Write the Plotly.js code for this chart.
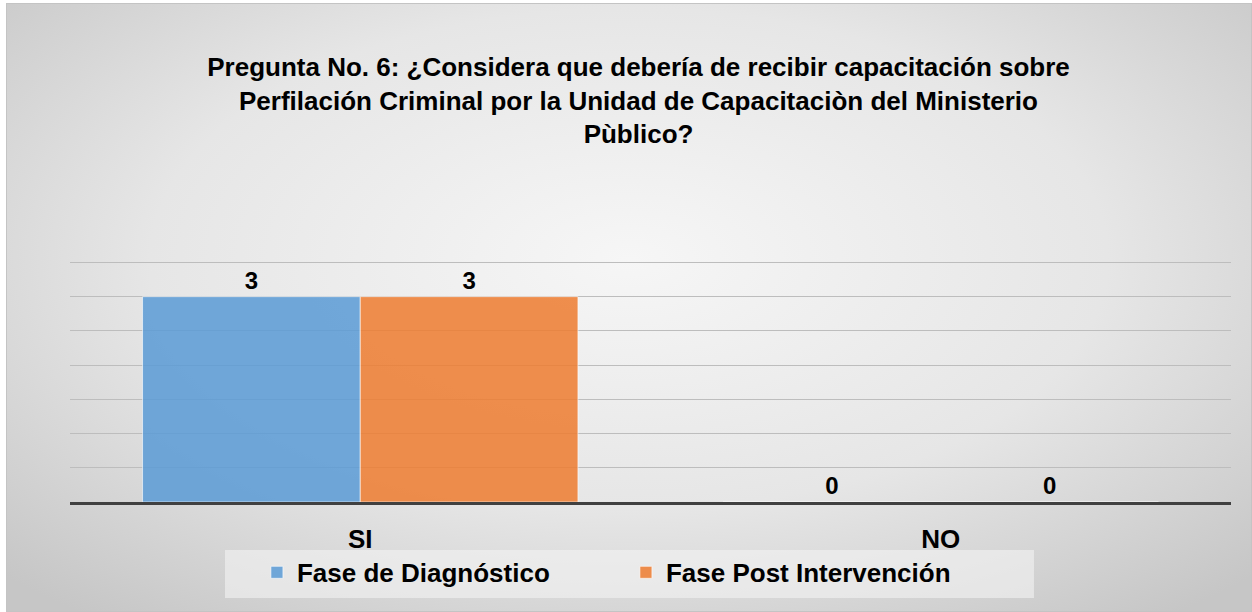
<!DOCTYPE html>
<html>
<head>
<meta charset="utf-8">
<script src="https://cdn.plot.ly/plotly-3.0.1.min.js"></script>
<style>
  html, body { margin: 0; padding: 0; background: #ffffff; }
  #bg {
    position: absolute; left: 6px; top: 3px; width: 1244px; height: 607px;
    border: 1px solid #c4c4c4;
    background: radial-gradient(ellipse 70% 75% at 50% 42%, #f6f6f6 0%, #e6e6e6 55%, #c6c6c6 100%);
  }
  #chart { position: absolute; left: 0; top: 0; width: 1252px; height: 612px; }
</style>
</head>
<body>
<div id="bg"></div>
<div id="chart"></div>
<script>
const categories = ["SI", "NO"];
const seriesNames = ["Fase de Diagnóstico", "Fase Post Intervención"];
const diagnostico = [3, 0];
const postIntervencion = [3, 0];
const titleText = "Pregunta No. 6: ¿Considera que debería de recibir capacitación sobre<br>Perfilación Criminal por la Unidad de Capacitaciòn del Ministerio<br>Pùblico?";

const FONT = "Liberation Sans, Arial, sans-serif";

const traces = [
  {
    type: "bar", name: seriesNames[0], x: categories, y: diagnostico,
    text: diagnostico.map(String), textposition: "outside", cliponaxis: false,
    textfont: { family: FONT, size: 24, color: "#000000", weight: "bold" },
    marker: { color: "rgba(91,155,213,0.86)", line: { color: "rgba(255,255,255,0.6)", width: 1 } }
  },
  {
    type: "bar", name: seriesNames[1], x: categories, y: postIntervencion,
    text: postIntervencion.map(String), textposition: "outside", cliponaxis: false,
    textfont: { family: FONT, size: 24, color: "#000000", weight: "bold" },
    marker: { color: "rgba(237,125,49,0.86)", line: { color: "rgba(255,255,255,0.6)", width: 1 } }
  }
];

const layout = {
  width: 1252, height: 612,
  paper_bgcolor: "rgba(0,0,0,0)", plot_bgcolor: "rgba(0,0,0,0)",
  margin: { l: 70, r: 21, t: 259, b: 110 },
  barmode: "group", bargap: 0.25, bargroupgap: 0,
  font: { family: FONT, color: "#000000" },
  title: {
    text: titleText, x: 0.51, xanchor: "center", y: 0.876, yanchor: "top",
    font: { family: FONT, size: 26, color: "#000000", weight: "bold" }
  },
  xaxis: {
    type: "category", showgrid: false, zeroline: false,
    showline: true, linecolor: "#404040", linewidth: 3,
    ticks: "outside", ticklen: 12, tickcolor: "rgba(0,0,0,0)",
    tickfont: { family: FONT, size: 26, color: "#000000", weight: "bold" }
  },
  yaxis: {
    range: [0, 3.55], dtick: 0.5, showticklabels: false, zeroline: false,
    showgrid: true, gridcolor: "#bdbdbd", gridwidth: 1, showline: false, ticks: ""
  },
  shapes: [{
    type: "rect", xref: "paper", yref: "paper", layer: "below",
    x0: 0.1335, x1: 0.8303, y0: -0.395, y1: -0.198,
    fillcolor: "rgba(244,244,244,0.6)", line: { width: 0 }
  }],
  legend: {
    orientation: "h", x: 0.161, xanchor: "left", y: -0.193, yanchor: "top",
    bgcolor: "rgba(0,0,0,0)", borderwidth: 0,
    font: { family: FONT, size: 26, color: "#000000", weight: "bold" },
    itemwidth: 30, entrywidth: 324
  },
  showlegend: true
};

Plotly.newPlot("chart", traces, layout, { displayModeBar: false, staticPlot: true });
</script>
</body>
</html>
